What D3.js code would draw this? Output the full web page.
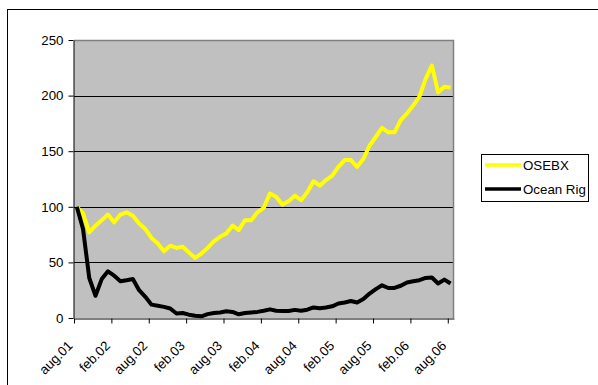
<!DOCTYPE html>
<html>
<head>
<meta charset="utf-8">
<script src="https://cdn.jsdelivr.net/npm/d3@7/dist/d3.min.js"></script>
<style>
  html, body { margin: 0; padding: 0; background: #fff; }
  svg { display: block; font-family: "Liberation Sans", Arial, sans-serif; }
</style>
</head>
<body>
<svg id="chart" width="598" height="385"></svg>
<script>
// Monthly index values, Aug 2001 = 100
const months = d3.range(0, 61); // aug.01 ... aug.06
const osebx = [100, 94, 77, 83, 88, 93, 86, 93, 95, 92,
               85, 80, 72, 67, 60, 65, 63, 64, 59, 54,
               58, 63, 69, 73, 76, 83, 79, 88, 88, 95,
               99, 112, 109, 102, 105, 110, 106, 113, 123, 119,
               124, 128, 136, 142, 142, 136, 143, 155, 163, 171,
               167, 167, 178, 184, 191, 199, 215, 227, 203, 208, 207];
const oceanRig = [100, 80, 36, 20, 35, 42, 38, 33, 34, 35,
                  25, 19, 12, 11, 10, 8.5, 4, 4.5, 3, 2,
                  1.5, 3.5, 4.5, 5, 6, 5.5, 3.3, 4.5, 5, 5.5,
                  6.5, 7.8, 6.5, 6.3, 6.3, 7.3, 6.5, 7.5, 9.5, 8.7,
                  9.5, 10.5, 13, 14, 15.3, 14, 17, 22, 26, 29.4,
                  27, 27, 29, 32, 33, 34, 36, 36.4, 31, 34.5, 31];
const xTickMonths = [0, 6, 12, 18, 24, 30, 36, 42, 48, 54, 60];
const xTickLabels = ["aug.01", "feb.02", "aug.02", "feb.03", "aug.03", "feb.04",
                     "aug.04", "feb.05", "aug.05", "feb.06", "aug.06"];
const yTicks = [0, 50, 100, 150, 200, 250];
const seriesNames = ["OSEBX", "Ocean Rig"];
const seriesColors = ["#FFFF00", "#000000"];

const svg = d3.select("#chart");
const plot = { left: 74, right: 454, top: 40, bottom: 318 };

// outer chart frame
svg.append("rect")
  .attr("x", 7.5).attr("y", 9.5).attr("width", 700).attr("height", 500)
  .attr("fill", "#fff").attr("stroke", "#000").attr("stroke-width", 1);

const x = d3.scaleLinear().domain([0, 61]).range([plot.left, plot.right]);
const y = d3.scaleLinear().domain([0, 250]).range([plot.bottom, plot.top]);

// plot area
svg.append("rect")
  .attr("x", plot.left).attr("y", plot.top)
  .attr("width", plot.right - plot.left).attr("height", plot.bottom - plot.top)
  .attr("fill", "#C0C0C0");

// gridlines
svg.append("g").selectAll("line")
  .data(yTicks.filter(v => v > 0 && v < 250))
  .join("line")
  .attr("x1", plot.left).attr("x2", plot.right)
  .attr("y1", d => Math.round(y(d)) + 0.5).attr("y2", d => Math.round(y(d)) + 0.5)
  .attr("stroke", "#000").attr("stroke-width", 1);

// plot border (top and right)
svg.append("path")
  .attr("d", `M${plot.left},${plot.top + 0.5}H${plot.right - 0.5}V${plot.bottom}`)
  .attr("fill", "none").attr("stroke", "#808080").attr("stroke-width", 1.5);

// data lines
const offset = 0.45; // points sit slightly inside each month slot
const line = d3.line()
  .x((d, i) => x(months[i] + offset))
  .y(d => y(d));

svg.append("path").datum(osebx)
  .attr("d", line).attr("fill", "none")
  .attr("stroke", seriesColors[0]).attr("stroke-width", 4)
  .attr("stroke-linejoin", "round");

svg.append("path").datum(oceanRig)
  .attr("d", line).attr("fill", "none")
  .attr("stroke", seriesColors[1]).attr("stroke-width", 4)
  .attr("stroke-linejoin", "round");

// y axis
const yAxis = svg.append("g")
  .attr("transform", `translate(${plot.left - 0.5},0)`)
  .call(d3.axisLeft(y).tickValues(yTicks).tickSize(5).tickSizeOuter(0).tickPadding(5));
yAxis.select(".domain").attr("stroke", "#000");
yAxis.selectAll(".tick line").attr("stroke", "#000");
yAxis.selectAll(".tick text")
  .attr("font-size", "13.3px").attr("fill", "#000")
  .attr("font-family", "Liberation Sans, Arial, sans-serif");

// x axis
const xAxis = svg.append("g")
  .attr("transform", `translate(0,${plot.bottom + 0.5})`)
  .call(d3.axisBottom(x).tickValues(xTickMonths).tickSize(5).tickSizeOuter(0)
    .tickFormat((d, i) => xTickLabels[i]));
xAxis.select(".domain").attr("stroke", "#000");
xAxis.selectAll(".tick line").attr("stroke", "#000");
xAxis.selectAll(".tick text")
  .attr("font-size", "13.3px").attr("fill", "#000")
  .attr("font-family", "Liberation Sans, Arial, sans-serif")
  .attr("text-anchor", "end")
  .attr("dy", null)
  .attr("y", 0)
  .attr("transform", "translate(-1,28) rotate(-45)");

// legend
const legend = svg.append("g");
legend.append("rect")
  .attr("x", 481.5).attr("y", 154.5).attr("width", 107).attr("height", 47)
  .attr("fill", "#fff").attr("stroke", "#000").attr("stroke-width", 1);
const rows = legend.selectAll("g.row")
  .data(seriesNames)
  .join("g").attr("class", "row")
  .attr("transform", (d, i) => `translate(0,${165 + i * 24})`);
rows.append("line")
  .attr("x1", 485).attr("x2", 521).attr("y1", 0).attr("y2", 0)
  .attr("stroke", (d, i) => seriesColors[i]).attr("stroke-width", 3.5);
rows.append("text")
  .attr("x", 523).attr("y", 5)
  .attr("font-size", "13.3px").attr("fill", "#000")
  .text(d => d);
</script>
</body>
</html>
